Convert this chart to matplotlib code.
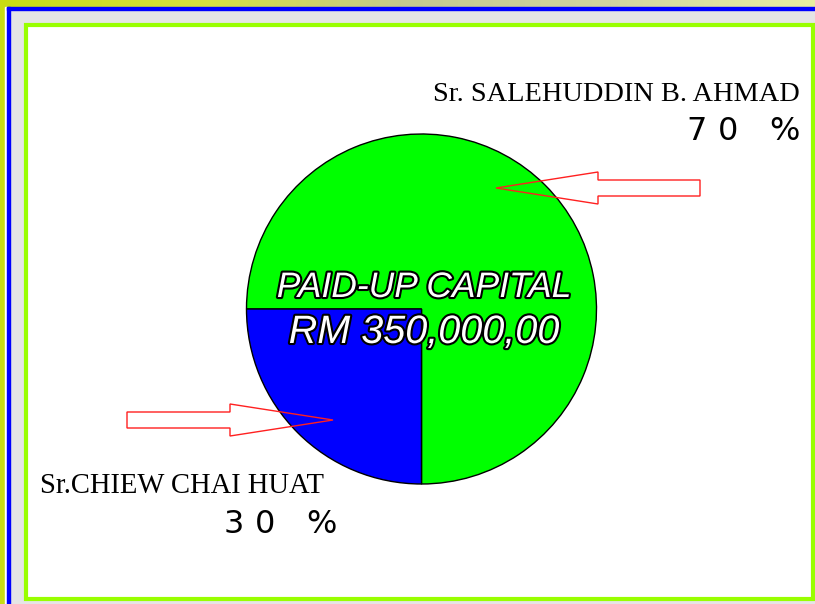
import numpy as np
import matplotlib.pyplot as plt
import matplotlib.patheffects as pe
from matplotlib.patches import Rectangle, FancyArrow
from matplotlib.colors import LinearSegmentedColormap

# slice shares as drawn in the picture (green, blue)
slice_sizes = [75, 25]
slice_colors = ['#00ff00', '#0000ff']
names = ['Sr. SALEHUDDIN B. AHMAD', 'Sr.CHIEW CHAI HUAT']
share_labels = ['70 %', '30 %']
title_lines = ['PAID-UP CAPITAL', 'RM 350,000,00']

W, H = 815, 604
fig = plt.figure(figsize=(W / 100, H / 100), dpi=100)
fig.patch.set_facecolor('#e5e5e5')
ax = fig.add_axes([0, 0, 1, 1])


def Y(y):
    # screen pixel row -> data y
    return H - y


# top band with a soft gradient
grad = np.linspace(0, 1, 256).reshape(1, -1)
band = LinearSegmentedColormap.from_list('band', ['#c8dc14', '#d6e040', '#c4c890', '#d0d4a0', '#e8eea0'])
ax.imshow(grad, cmap=band, extent=[0, W, Y(7), H], aspect='auto', zorder=0)
ax.add_patch(Rectangle((0, 0), 5, H, color='#c8dc14', zorder=0))
ax.add_patch(Rectangle((5, 0), 2, Y(7), color='white', zorder=0))
ax.add_patch(Rectangle((7, 0), 3, Y(7), color='#0000ff', zorder=1))
ax.add_patch(Rectangle((7, Y(10)), W, 3, color='#0000ff', zorder=1))

# white panel with green frame
ax.add_patch(Rectangle((26, Y(599)), 787, 574, facecolor='white',
                       edgecolor='#99ff00', linewidth=3, zorder=1))

# pie
ax.pie(slice_sizes, colors=slice_colors, startangle=270, counterclock=True,
       center=(421.5, Y(309)), radius=175, frame=True,
       wedgeprops=dict(edgecolor='black', linewidth=1))
ax.set_xlim(0, W)
ax.set_ylim(0, H)
ax.set_aspect('auto')
ax.axis('off')

# arrows
ax.add_patch(FancyArrow(700, Y(188), -204, 0, width=16, head_width=32, head_length=102,
                        length_includes_head=True, fill=False, edgecolor='#ff2020',
                        linewidth=1, zorder=5))
ax.add_patch(FancyArrow(127, Y(420), 206, 0, width=16, head_width=32, head_length=103,
                        length_includes_head=True, fill=False, edgecolor='#ff2020',
                        linewidth=1, zorder=5))

# owner names
serif = ['Liberation Serif', 'DejaVu Serif']
ax.text(800, Y(101), names[0], ha='right', va='baseline', fontsize=20.4,
        family=serif, color='black', zorder=6)
ax.text(40, Y(493), names[1], ha='left', va='baseline', fontsize=20.6,
        family=serif, color='black', zorder=6)


# shares, drawn letter by letter with wide spacing
def spaced(label, x_right, y, step=31):
    for i, ch in enumerate(reversed(label)):
        ax.text(x_right - i * step, y, ch, ha='right', va='baseline', fontsize=23,
                family='DejaVu Sans', color='black', zorder=6)


spaced(share_labels[0], 800, Y(140))
spaced(share_labels[1], 337, Y(533))

# centre caption, white letters with black outline
outline = [pe.withStroke(linewidth=3, foreground='black')]
for txt, yb, fs in zip(title_lines, [297, 343], [25.5, 28.5]):
    ax.text(424, Y(yb), txt, ha='center', va='baseline', fontsize=fs,
            family=['Liberation Sans', 'DejaVu Sans'], style='italic',
            color='white', path_effects=outline, zorder=7)

fig.savefig('out.png', dpi=100, facecolor=fig.get_facecolor())
